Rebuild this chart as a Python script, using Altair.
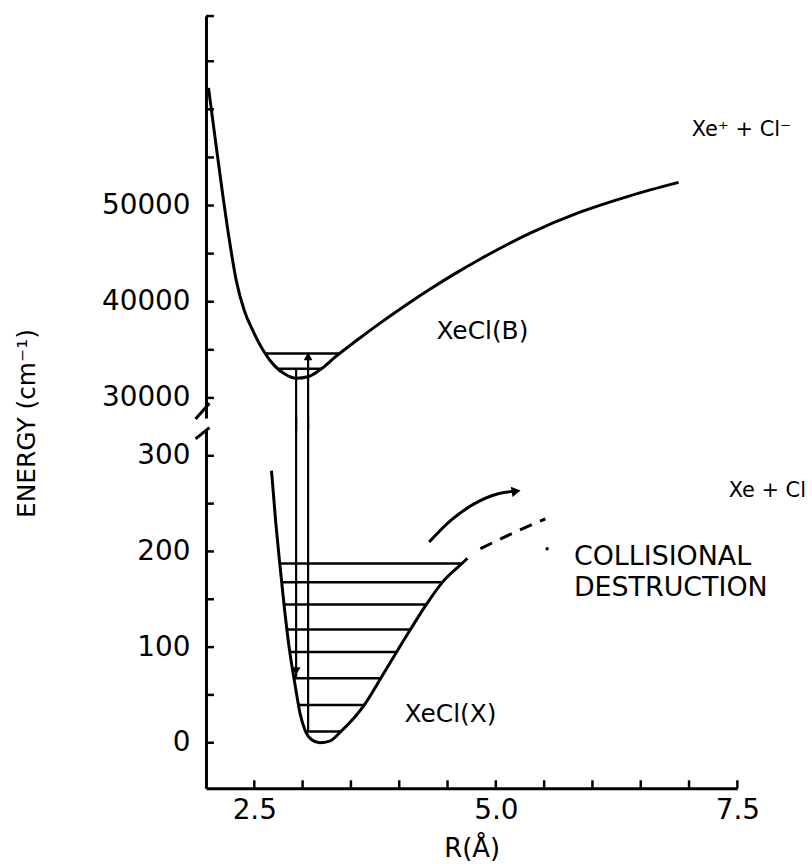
import altair as alt
import pandas as pd

FONT = "DejaVu Sans"
FW = "normal"

# ---------------- data ----------------
X_DOMAIN = [2.0, 7.5]
UP_DOMAIN = [27900, 69700]
LO_DOMAIN = [-47.6, 328]

# XeCl(B) potential curve
b_R = [2.026, 2.098, 2.170, 2.242, 2.314, 2.397, 2.490, 2.593, 2.706, 2.820,
       2.933, 3.057, 3.180, 3.345, 3.572, 3.809, 4.067, 4.325, 4.582, 4.840,
       5.356, 5.871, 6.387, 6.892]
b_E = [62230, 56750, 51373, 46410, 42170, 39068, 36897, 34932, 33381, 32451,
       32037, 32192, 32916, 34312, 36070, 37827, 39637, 41343, 42946, 44445,
       47133, 49305, 51011, 52407]

# XeCl(B) vibrational levels
bl_E = [34608, 33021]
bl_R1 = [2.618, 2.753]
bl_R2 = [3.381, 3.190]

# XeCl(X) potential curve (solid part)
x_R = [2.678, 2.722, 2.765, 2.809, 2.858, 2.920, 2.974, 3.026, 3.091, 3.177,
       3.280, 3.400, 3.641, 3.812, 3.967, 4.122, 4.276, 4.448, 4.655, 4.706]
x_E = [284.4, 230.3, 185.9, 143.2, 101.5, 61.7, 30.5, 12.8, 3.4, 0.0,
       1.7, 12.1, 39.9, 67.9, 93.9, 119.4, 143.8, 167.9, 187.9, 192.8]

# XeCl(X) dashed continuation
xd_R = [4.840, 5.170, 5.513]
xd_E = [202.9, 218.8, 234.1]

# XeCl(X) vibrational levels
xl_E = [187.4, 167.7, 144.5, 118.5, 94.9, 67.3, 39.5, 11.7]
xl_R1 = [2.764, 2.784, 2.808, 2.838, 2.868, 2.911, 2.958, 3.030]
xl_R2 = [4.650, 4.448, 4.280, 4.117, 3.970, 3.810, 3.637, 3.398]

# transitions (R, energy in B, energy in X)
tr_R = [2.933, 3.057]
tr_EB = [33021, 34608]
tr_EX = [67.3, 11.7]

# arrowheads
ahB_R = [3.057]
ahB_E = [34312]
ahX_R = [2.933]
ahX_E = [75.0]

# collisional destruction arrow
ca_R = [4.310, 4.534, 4.775, 5.015, 5.180]
ca_E = [209.8, 232.4, 249.7, 260.1, 262.8]
cah_R = [5.210]
cah_E = [263.0]
dot_R = [5.531]
dot_E = [202.9]

# axis ticks
x_ticks = [2.5, 3.0, 3.5, 4.0, 4.5, 5.0, 5.5, 6.0, 6.5, 7.0, 7.5]
x_labels = [2.5, 5.0, 7.5]
up_ticks = [30000, 35000, 40000, 45000, 50000, 55000, 60000, 65000, 69700]
up_labels = [30000, 40000, 50000]
lo_ticks = [0, 50, 100, 150, 200, 250, 300]
lo_labels = [0, 100, 200, 300]

# axis-break marks
brk_up = {"R": [2.036], "R2": [1.892], "E": [29450], "E2": [27800]}
brk_lo = {"R": [1.892], "R2": [2.036], "E": [317.7], "E2": [329.5]}

# annotations
up_text = pd.DataFrame({
    "R": [7.541, 4.861],
    "E": [57800, 37000],
    "t": ["Xe\u207a + Cl\u207b", "XeCl(B)"],
    "s": [21, 25],
})
lo_text_c = pd.DataFrame({
    "R": [7.81, 4.531],
    "E": [263.6, 30.5],
    "t": ["Xe + Cl", "XeCl(X)"],
    "s": [21, 25],
})
lo_text_l = pd.DataFrame({
    "R": [5.808, 5.808],
    "E": [193.8, 161.6],
    "t": ["COLLISIONAL", "DESTRUCTION"],
})

# ---------------- layout ----------------
W = 534
UP_H = 404
LO_H = 361
GAP = 11
TICK = 8

xs = alt.Scale(domain=X_DOMAIN, nice=False, zero=False)
ysu = alt.Scale(domain=UP_DOMAIN, nice=False, zero=False)
ysl = alt.Scale(domain=LO_DOMAIN, nice=False, zero=False)

up_gap_end = UP_DOMAIN[0] - (UP_DOMAIN[1] - UP_DOMAIN[0]) / UP_H * (GAP + 1)
lo_gap_end = LO_DOMAIN[1] + (LO_DOMAIN[1] - LO_DOMAIN[0]) / LO_H * (GAP + 1)

common = dict(ticks=False, tickSize=0, grid=False, domainWidth=3,
              domainColor="black", labelFont=FONT, labelFontWeight=FW,
              labelColor="black", labelFlush=False)

ax_yu = alt.Axis(values=up_labels, format="d", labelFontSize=28,
                 labelPadding=16, title=None, **common)
ax_yl = alt.Axis(values=lo_labels, format="d", labelFontSize=28,
                 labelPadding=16,
                 title="ENERGY (cm\u207b\u00b9)", titleFont=FONT,
                 titleFontSize=25, titleFontWeight=FW,
                 titleColor="black", titleAngle=270, titleAlign="center",
                 titleBaseline="middle", titleX=-180, titleY=-6, **common)
ax_xl = alt.Axis(values=x_labels, format=".1f", labelFontSize=28,
                 labelPadding=8, title="R(\u00c5)", titleFont=FONT,
                 titleFontSize=26, titleFontWeight=FW,
                 titleColor="black", titlePadding=12, **common)

XU = lambda f="R": alt.X(f"{f}:Q", scale=xs, axis=None)
YU = lambda f="E": alt.Y(f"{f}:Q", scale=ysu, axis=ax_yu)
XL = lambda f="R": alt.X(f"{f}:Q", scale=xs, axis=ax_xl)
YL = lambda f="E": alt.Y(f"{f}:Q", scale=ysl, axis=ax_yl)

# ---------- upper panel ----------
b_curve = alt.Chart(pd.DataFrame({"R": b_R, "E": b_E})).mark_line(
    color="black", strokeWidth=3, interpolate="monotone", clip=False
).encode(x=XU(), y=YU())

b_levels = alt.Chart(pd.DataFrame({"R": bl_R1, "R2": bl_R2, "E": bl_E})).mark_rule(
    color="black", strokeWidth=2.5
).encode(x=XU(), x2="R2:Q", y=YU())

tr_up = alt.Chart(pd.DataFrame({"R": tr_R, "E": tr_EB,
                                "E2": [up_gap_end] * len(tr_R)})).mark_rule(
    color="black", strokeWidth=2.2, clip=False
).encode(x=XU(), y=YU(), y2="E2:Q")

ah_up = alt.Chart(pd.DataFrame({"R": ahB_R, "E": ahB_E})).mark_point(
    shape="triangle-up", filled=True, color="black", size=80, opacity=1
).encode(x=XU(), y=YU())

up_ticks_r = alt.Chart(pd.DataFrame({"E": up_ticks})).mark_rule(
    color="black", strokeWidth=2.5
).encode(x=alt.value(0), x2=alt.value(TICK), y=YU())

brk_up_r = alt.Chart(pd.DataFrame(brk_up)).mark_rule(
    color="black", strokeWidth=3, clip=False
).encode(x=XU(), x2="R2:Q", y=YU(), y2="E2:Q")

up_txt = alt.Chart(up_text).mark_text(
    font=FONT, fontWeight=FW, color="black", align="center", baseline="middle"
).encode(x=XU(), y=YU(), text="t:N",
         size=alt.Size("s:Q", scale=None, legend=None))

upper = alt.layer(b_curve, b_levels, tr_up, ah_up, up_ticks_r, brk_up_r,
                  up_txt).properties(width=W, height=UP_H)

# ---------- lower panel ----------
x_curve = alt.Chart(pd.DataFrame({"R": x_R, "E": x_E})).mark_line(
    color="black", strokeWidth=3, interpolate="monotone", clip=False
).encode(x=XL(), y=YL())

x_dash = alt.Chart(pd.DataFrame({"R": xd_R, "E": xd_E})).mark_line(
    color="black", strokeWidth=3, strokeDash=[13, 9], interpolate="monotone"
).encode(x=XL(), y=YL())

x_levels = alt.Chart(pd.DataFrame({"R": xl_R1, "R2": xl_R2, "E": xl_E})).mark_rule(
    color="black", strokeWidth=2.5
).encode(x=XL(), x2="R2:Q", y=YL())

tr_lo = alt.Chart(pd.DataFrame({"R": tr_R, "E": tr_EX,
                                "E2": [lo_gap_end] * len(tr_R)})).mark_rule(
    color="black", strokeWidth=2.2, clip=False
).encode(x=XL(), y=YL(), y2="E2:Q")

ah_lo = alt.Chart(pd.DataFrame({"R": ahX_R, "E": ahX_E})).mark_point(
    shape="triangle-down", filled=True, color="black", size=80, opacity=1
).encode(x=XL(), y=YL())

c_arrow = alt.Chart(pd.DataFrame({"R": ca_R, "E": ca_E})).mark_line(
    color="black", strokeWidth=3, interpolate="monotone"
).encode(x=XL(), y=YL())

c_head = alt.Chart(pd.DataFrame({"R": cah_R, "E": cah_E})).mark_point(
    shape="triangle-right", filled=True, color="black", size=110, opacity=1,
    angle=350
).encode(x=XL(), y=YL())

dot = alt.Chart(pd.DataFrame({"R": dot_R, "E": dot_E})).mark_point(
    shape="circle", filled=True, color="black", size=12, opacity=1
).encode(x=XL(), y=YL())

lo_ticks_r = alt.Chart(pd.DataFrame({"E": lo_ticks})).mark_rule(
    color="black", strokeWidth=2.5
).encode(x=alt.value(0), x2=alt.value(TICK), y=YL())

x_ticks_r = alt.Chart(pd.DataFrame({"R": x_ticks})).mark_rule(
    color="black", strokeWidth=2.5
).encode(x=XL(), y=alt.value(LO_H), y2=alt.value(LO_H - TICK))

brk_lo_r = alt.Chart(pd.DataFrame(brk_lo)).mark_rule(
    color="black", strokeWidth=3, clip=False
).encode(x=XL(), x2="R2:Q", y=YL(), y2="E2:Q")

lo_txt_c = alt.Chart(lo_text_c).mark_text(
    font=FONT, fontWeight=FW, color="black", align="center", baseline="middle"
).encode(x=XL(), y=YL(), text="t:N",
         size=alt.Size("s:Q", scale=None, legend=None))

lo_txt_l = alt.Chart(lo_text_l).mark_text(
    font=FONT, fontWeight=FW, color="black", align="left", baseline="middle",
    fontSize=27
).encode(x=XL(), y=YL(), text="t:N")

lower = alt.layer(x_curve, x_dash, x_levels, tr_lo, ah_lo, c_arrow, c_head,
                  dot, lo_ticks_r, x_ticks_r, brk_lo_r, lo_txt_c,
                  lo_txt_l).properties(width=W, height=LO_H)

chart = alt.vconcat(upper, lower, spacing=GAP, bounds="flush").properties(
    padding={"left": 15, "top": 12, "right": 5, "bottom": 5},
    background="white",
).configure_view(stroke=None)

chart.save("out.html", embed_options={"renderer": "svg", "actions": False})
